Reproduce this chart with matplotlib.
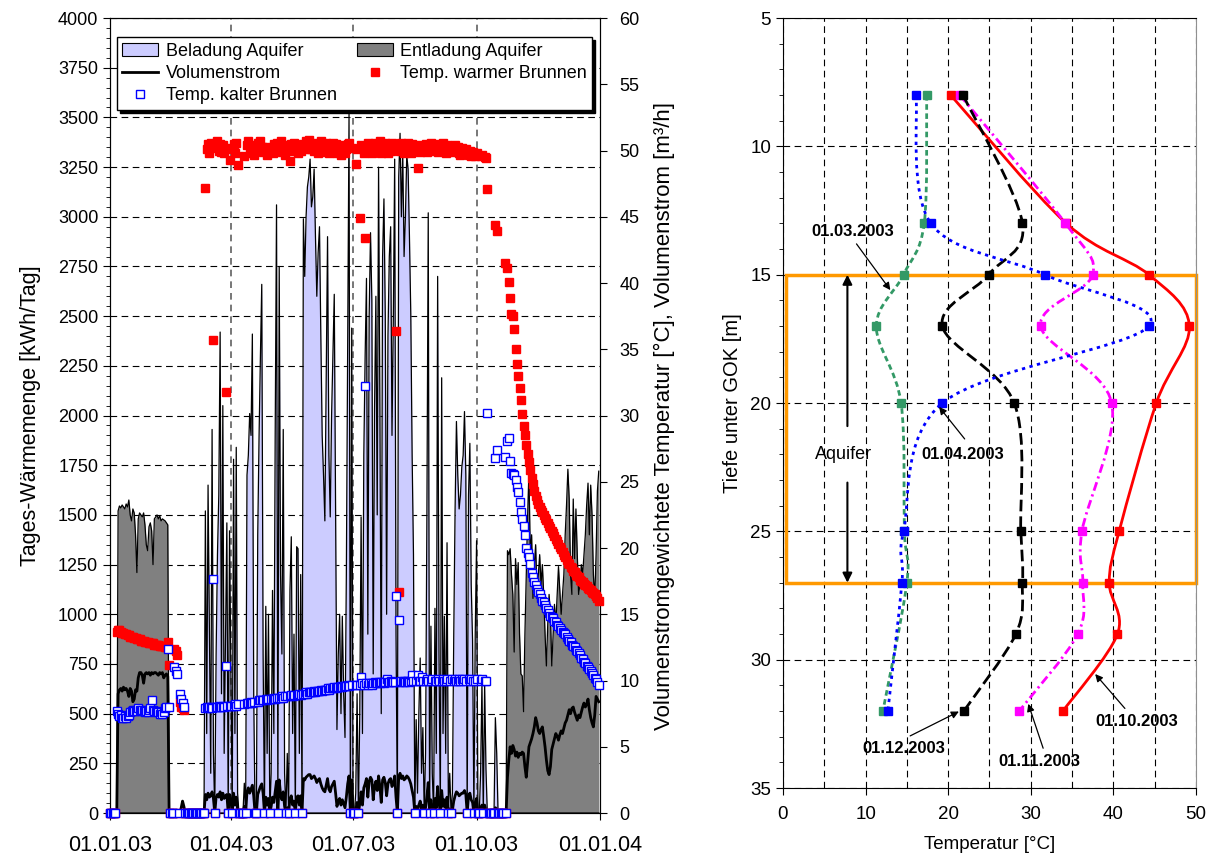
import matplotlib
matplotlib.use("Agg")
import matplotlib.pyplot as plt
import matplotlib.dates as mdates
import numpy as np
import pandas as pd
from matplotlib.lines import Line2D
from matplotlib.patches import Patch, PathPatch, Rectangle
from matplotlib.path import Path
from matplotlib.ticker import MultipleLocator

plt.rcParams["font.family"] = ["Liberation Sans", "DejaVu Sans"]
plt.rcParams["font.size"] = 13

# ---------------- left chart: daily values 2003 ----------------
# Beladung (charging) in kWh/day, starting 12.03.2003
charge_start = "2003-03-12"
charge_kwh = [
    0, 1520, 400, 1650, 900, 200, 1930, 300, 0, 800, 1300, 1600, 2420, 600, 2050, 300, 900, 1460, 0, 1420,
    700, 0, 1780, 400, 1840, 100, 0, 0, 0, 0, 150, 0, 1700, 1800, 2010, 1900, 2410, 600, 0, 0,
    1400, 1900, 2300, 2660, 800, 0, 1040, 300, 1000, 0,
    200, 1120, 400, 1900, 3060, 0, 2750, 1200, 800, 1930, 200, 0, 300, 0, 1120, 1390, 400, 900, 0, 1340,
    1330, 300, 1200, 0, 2990, 2700, 3000, 3150, 3200, 3290, 3050,
    3100, 3240, 2900, 2600, 2820, 2950, 2400, 1900, 1700, 1470, 2200, 2900, 1800, 1490, 2000, 2300, 2610, 1500, 420, 800,
    1000, 500, 990, 600, 380, 1200, 2340, 3520, 0, 2440,
    0, 0, 100, 600, 0, 500, 1490, 400, 1800, 2300, 2690, 900, 2500, 2920, 2580, 700, 2030, 2600, 1500, 3250,
    2030, 500, 2800, 3090, 2500, 1000, 2400, 2800, 2950, 1900, 2490,
    3290, 900, 0, 3200, 3420, 3000, 3320, 2800, 3000, 3310, 3240, 2900, 2510, 1800, 1300, 0, 470, 100, 500, 780,
    200, 430, 0, 300, 1500, 3020, 0, 940, 200, 0, 1030,
    300, 2700, 800, 0, 2190, 400, 990, 300, 1360, 0, 200, 0, 100, 900, 1530, 1970, 1700, 1530, 1600, 1740,
    1800, 2020, 1700, 0, 1600, 1860, 1150, 870, 0, 900,
    1370, 0, 0, 200, 660, 0, 650, 220, 0, 0, 0, 0, 0, 0, 480, 300, 0,
]

# Entladung (discharging) in kWh/day
discharge_winter_start = "2003-01-07"
discharge_winter_kwh = [
    1520, 1545, 1535, 1550, 1540, 1530, 1555, 1540, 1575, 1500, 1470, 1530, 1510, 1400, 1210, 1480, 1510, 1500,
    1490, 1510, 1450, 1350, 1320, 1440, 1460,
    1420, 1250, 1480, 1490, 1500, 1480, 1495, 1470, 1480, 1475, 1470, 1460, 1450,
]
discharge_autumn_start = "2003-10-24"
discharge_autumn_kwh = [
    1320, 1300, 1330, 1200, 1100, 810, 1280, 1150,
    1260, 900, 700, 690, 510, 900, 1200, 1490, 1720, 1300, 1400, 1080, 1250, 1350, 1100, 1200, 1300, 1150,
    1250, 1100, 900, 740, 950, 1100, 1000, 740, 900, 1050, 950, 1100,
    1240, 1120, 1000, 1100, 1200, 1400, 1550, 1730, 1580, 1200, 1100, 1580, 1280, 1530, 1300, 1100, 1150,
    1250, 1200, 1300, 1400, 1550, 1660, 1400, 1650, 1500, 1200, 1080, 1300, 1620, 1720,
]

# Volumenstrom in m3/h, 01.01.2003 - 31.12.2003
flow_m3h = [
    # Jan
    0, 0, 0, 0, 0, 0, 9.0, 9.3, 9.4, 9.2, 9.5, 9.3, 9.4, 9.2, 8.8, 9.4, 9.2, 8.4, 8.6, 9.3, 9.2, 10.2,
    10.6, 10.6, 10.4, 9.8, 10.5, 10.6, 10.5, 10.6, 10.4,
    # Feb
    10.6, 10.5, 10.6, 10.6, 10.5, 10.4, 10.6, 10.5, 10.6, 10.2, 10.4, 10.5, 10.3, 0, 0, 0, 0, 0, 0, 0,
    0, 0, 0.4, 0.9, 0.5, 0, 0, 0,
    # Mar
    0, 0, 0, 0, 0, 0, 0, 0, 0, 0, 0, 0, 1.4, 1.0, 1.5, 1.2, 1.3, 1.6, 1.1, 0, 1.2, 1.4, 1.2, 1.6, 1.0,
    1.5, 1.1, 1.3, 1.4, 0, 1.4,
    # Apr
    1.0, 0, 1.5, 0.6, 1.2, 0.3, 0, 0, 0, 0, 0.5, 0, 1.6, 1.9, 1.5, 1.8, 2.1, 1.3, 0, 0, 1.4, 1.7, 2.0,
    2.2, 1.5, 0, 1.2, 0.6, 1.1, 0,
    # May
    0.5, 1.2, 0.8, 1.6, 2.4, 0, 2.5, 1.4, 1.0, 1.6, 0.5, 0, 0.4, 0, 1.1, 1.3, 0.6, 0.9, 0, 1.2, 1.3,
    0.6, 1.3, 0, 2.6, 2.5, 2.7, 2.8, 2.9, 2.9, 2.6,
    # Jun
    2.7, 2.8, 2.6, 2.3, 2.5, 2.6, 2.2, 1.9, 1.7, 1.6, 2.1, 2.6, 1.8, 1.6, 2.0, 2.2, 2.4, 1.5, 0.5, 0.9,
    1.1, 0.6, 1.0, 0.7, 0.4, 1.2, 2.2, 2.8, 0, 2.5,
    # Jul
    0, 0, 0.2, 0.8, 0, 0.7, 1.6, 0.6, 1.9, 2.2, 2.6, 1.2, 2.4, 2.7, 2.5, 1.0, 2.0, 2.4, 1.7, 2.8, 2.0,
    0.8, 2.5, 2.7, 2.3, 1.3, 2.2, 2.5, 2.6, 2.0, 2.2,
    # Aug
    2.8, 1.2, 0, 2.7, 3.0, 2.6, 2.8, 2.5, 2.6, 2.8, 2.7, 2.5, 2.2, 1.7, 1.2, 0, 0.5, 0.2, 0.6, 0.9, 0.3,
    0.6, 0, 0.4, 1.3, 2.3, 0, 1.0, 0.4, 0, 1.1,
    # Sep
    0.4, 2.0, 0.8, 0, 1.7, 0.5, 1.0, 0.4, 1.2, 0, 0.3, 0, 0.2, 0.9, 1.3, 1.6, 1.5, 1.3, 1.4, 1.5, 1.5,
    1.7, 1.4, 0, 1.3, 1.5, 1.0, 0.8, 0, 0.8,
    # Oct
    1.1, 0, 0, 0.2, 0.6, 0, 0.6, 0.2, 0, 0, 0, 0, 0, 0, 0.4, 0.3, 0, 0, 0, 0, 0, 0, 0, 2.7, 4.0, 5.0,
    4.5, 5.1, 4.8, 4.3, 4.6,
    # Nov
    4.2, 4.5, 4.4, 4.6, 4.5, 3.5, 2.7, 3.8, 5.0, 5.3, 5.6, 6.0, 6.5, 7.2, 6.8, 6.2, 6.0, 6.3, 6.5, 5.8,
    5.0, 4.0, 3.2, 2.9, 3.5, 4.8, 5.2, 5.6, 6.0, 5.8,
    # Dec
    5.5, 5.9, 6.2, 6.0, 6.4, 6.8, 7.0, 7.4, 7.8, 7.5, 7.9, 8.0, 7.6, 7.3, 7.0, 7.4, 7.2, 7.6, 8.0, 8.3,
    8.0, 8.2, 8.6, 7.8, 7.2, 6.8, 6.5, 7.4, 8.8, 8.6, 8.4,
]

# flow weighted temperature of the warm well in degC
temp_warm = [
    # Jan
    0, 0, 0, 0, 0, 13.7, 13.8, 13.8, 13.7, 13.6, 13.6, 13.5, 13.5, 13.4, 13.4, 13.3, 13.3, 13.3, 13.2,
    13.2, 13.1, 13.1, 13.1, 13.0, 13.0, 13.0, 12.9, 12.9, 12.9, 12.8, 12.8,
    # Feb
    12.8, 12.8, 12.7, 12.7, 12.7, 12.7, 12.6, 12.6, 12.6, 12.6, 12.5, 12.5, 12.9, 11.2, 0, 0, 0, 12.4,
    12.2, 11.9, 0, 8.4, 8.0, 7.9, 7.8, 0, 0, 0,
    # Mar
    0, 0, 0, 0, 0, 0, 0, 0, 0, 0, 0, 0, 47.2, 50.1, 50.5, 49.8, 50.6, 50.2, 35.7, 0, 50.3, 50.7, 50.0,
    50.5, 49.9, 50.4, 49.8, 31.8, 50.2, 0, 49.3,
    # Apr
    50.1, 0, 50.5, 49.8, 50.6, 48.9, 0, 0, 0, 0, 49.6, 0, 50.4, 50.7, 50.1, 49.8, 50.4, 49.7, 0, 0, 50.6,
    50.1, 50.7, 50.3, 49.9, 0, 50.3, 49.7, 50.0, 0,
    # May
    50.2, 49.8, 50.5, 50.0, 50.6, 0, 50.2, 50.7, 49.9, 50.4, 49.7, 0, 50.3, 0, 49.2, 50.5, 50.0, 50.6, 0,
    50.2, 49.8, 50.4, 50.0, 0, 50.5, 50.1, 50.7, 50.3, 50.8, 50.4, 50.1,
    # Jun
    50.4, 50.0, 50.6, 50.2, 49.8, 50.4, 50.7, 50.1, 49.9, 50.5, 50.6, 50.1, 49.8, 50.4, 50.0, 50.6, 50.2,
    50.5, 49.8, 50.2, 50.0, 49.7, 50.4, 50.2, 49.8, 50.1, 50.5, 50.6, 0, 50.2,
    # Jul
    0, 0, 49.0, 50.1, 0, 44.9, 50.4, 50.2, 49.8, 43.4, 50.3, 50.6, 50.0, 50.4, 49.8, 50.2, 50.6, 50.0,
    50.4, 50.1, 50.7, 49.8, 50.4, 50.0, 50.6, 50.2, 49.8, 50.4, 50.0, 50.6, 50.2,
    # Aug
    50.4, 36.4, 0, 16.7, 50.0, 50.6, 50.2, 49.8, 50.4, 50.0, 50.6, 50.2, 49.8, 50.5, 50.0, 0, 50.3, 48.7,
    50.4, 49.9, 50.3, 50.0, 0, 50.5, 49.9, 50.3, 0, 50.6, 50.0, 0, 50.4,
    # Sep
    50.3, 49.9, 50.5, 0, 50.0, 50.6, 50.2, 49.8, 50.4, 0, 50.0, 0, 50.3, 49.9, 50.4, 50.0, 50.3, 49.8,
    49.7, 50.2, 49.9, 49.8, 50.1, 0, 49.7, 50.0, 49.6, 49.9, 0, 49.6,
    # Oct
    49.8, 0, 0, 49.6, 49.7, 0, 49.5, 49.4, 47.1, 0, 0, 0, 0, 0, 44.4, 43.9, 0, 0, 0, 0, 0, 41.5, 0, 41.1,
    40.1, 38.9, 37.7, 37.5, 36.5, 35.0, 33.9,
    # Nov
    33.0, 32.1, 31.2, 30.1, 29.2, 28.5, 27.8, 27.1, 26.5, 25.9, 25.3, 24.8, 24.3, 23.9, 23.6, 23.3, 23.1,
    22.9, 22.7, 22.5, 22.3, 22.1, 21.9, 21.7, 21.5, 21.3, 21.1, 20.9, 20.7, 20.5,
    # Dec
    20.3, 20.1, 19.9, 19.7, 19.5, 19.3, 19.1, 18.9, 18.8, 18.6, 18.5, 18.3, 18.2, 18.0, 17.9, 17.8, 17.6,
    17.5, 17.4, 17.3, 17.2, 17.1, 17.0, 16.9, 16.8, 16.7, 16.6, 16.5, 16.4, 16.2, 16.0,
]

# flow weighted temperature of the cold well in degC
temp_cold = [
    # Jan
    0, 0, 0, 0, 0, 7.7, 7.5, 7.3, 7.4, 7.2, 7.2, 7.3, 7.2, 7.3, 7.4, 7.6, 7.7, 7.8, 7.7, 7.8, 7.7, 7.9,
    7.8, 7.7, 7.8, 7.7, 7.6, 7.7, 7.6, 7.8, 7.9,
    # Feb
    8.5, 7.8, 7.7, 7.6, 7.7, 7.6, 7.5, 7.6, 7.5, 7.6, 7.9, 8.0, 12.4, 8.0, 0, 0, 0, 11.0, 10.7, 10.5, 0,
    9.0, 8.6, 8.3, 8.0, 0, 0, 0,
    # Mar
    0, 0, 0, 0, 0, 0, 0, 0, 0, 0, 0, 0, 7.9, 8.0, 7.9, 8.0, 8.0, 7.9, 17.7, 0, 8.0, 8.0, 8.1, 8.0, 8.0,
    8.1, 8.0, 11.1, 8.1, 0, 8.1,
    # Apr
    8.1, 0, 8.1, 8.2, 8.1, 8.2, 0, 0, 0, 0, 8.2, 0, 8.3, 8.3, 8.3, 8.4, 8.3, 8.4, 0, 0, 8.4, 8.5, 8.5,
    8.5, 8.5, 0, 8.6, 8.5, 8.6, 0,
    # May
    8.6, 8.6, 8.7, 8.6, 8.7, 0, 8.7, 8.7, 8.8, 8.7, 8.8, 0, 8.8, 0, 8.8, 8.9, 8.8, 8.9, 0, 8.9, 8.9, 9.0,
    8.9, 0, 9.0, 9.0, 9.1, 9.0, 9.1, 9.1, 9.1,
    # Jun
    9.1, 9.2, 9.1, 9.2, 9.2, 9.2, 9.3, 9.2, 9.3, 9.3, 9.3, 9.4, 9.3, 9.4, 9.4, 9.4, 9.5, 9.4, 9.5, 9.5,
    9.5, 9.6, 9.5, 9.6, 9.6, 9.6, 9.7, 9.6, 0, 9.7,
    # Jul
    0, 0, 9.7, 9.7, 0, 9.7, 10.3, 9.8, 9.7, 32.2, 9.8, 9.7, 9.8, 9.8, 9.7, 9.8, 9.9, 9.8, 9.8, 9.9, 9.8,
    9.9, 9.9, 9.8, 9.9, 10.1, 9.9, 9.9, 10.0, 9.9, 9.9,
    # Aug
    9.9, 16.4, 0, 14.6, 9.9, 10.0, 9.9, 10.0, 9.9, 10.0, 10.0, 9.9, 10.0, 10.4, 10.0, 0, 10.0, 10.4, 10.0,
    10.0, 10.3, 10.0, 0, 10.0, 10.1, 10.0, 0, 10.0, 10.1, 0, 10.0,
    # Sep
    10.0, 10.1, 10.0, 0, 10.0, 10.1, 10.0, 10.0, 10.1, 0, 10.0, 0, 10.1, 10.0, 10.1, 10.0, 10.0, 10.1,
    10.0, 10.1, 10.0, 10.1, 10.0, 0, 10.1, 10.0, 10.1, 10.0, 0, 10.0,
    # Oct
    10.1, 0, 0, 10.0, 10.1, 0, 10.0, 10.0, 30.2, 0, 0, 0, 0, 0, 26.8, 27.4, 0, 0, 0, 0, 0, 26.9, 0, 28.1,
    28.3, 26.6, 25.7, 25.6, 25.5, 25.1, 24.6,
    # Nov
    24.2, 23.5, 22.7, 22.2, 21.7, 21.0, 20.0, 19.6, 19.3, 18.8, 18.1, 17.8, 17.4, 17.2, 16.9, 16.7, 16.5,
    16.2, 16.0, 15.9, 15.7, 15.5, 15.3, 15.1, 14.9, 14.8, 14.7, 14.5, 14.4, 14.2,
    # Dec
    14.1, 14.0, 13.8, 13.7, 13.6, 13.5, 13.3, 13.1, 13.0, 12.9, 12.7, 12.6, 12.5, 12.3, 12.2, 12.1, 11.9,
    11.7, 11.6, 11.4, 11.3, 11.1, 11.0, 10.9, 10.7, 10.6, 10.4, 10.2, 10.1, 9.9, 9.7,
]

# ---------------- right chart: temperature profiles ----------------
depth_long = [8, 13, 15, 17, 20, 25, 27, 29, 32]
depth_short = [8, 13, 15, 17, 20, 25, 27, 32]
temp_0103 = [17.4, 17.1, 14.6, 11.3, 14.3, 14.7, 15.0, 12.1]
temp_0104 = [16.1, 17.9, 31.7, 44.3, 19.3, 14.6, 14.4, 12.7]
temp_1003 = [20.3, 34.3, 44.3, 49.2, 45.2, 40.7, 39.5, 40.5, 33.9]
temp_1103 = [21.4, 34.2, 37.5, 31.2, 39.8, 36.2, 36.3, 35.7, 28.6]
temp_1203 = [21.8, 29.0, 24.9, 19.3, 28.0, 28.8, 29.0, 28.2, 21.9]
aquifer_top, aquifer_bottom = 15, 27


def on_year(year, start, values):
    s = pd.Series(values, index=pd.date_range(start, periods=len(values), freq="D"))
    return s.reindex(year, fill_value=0)


def smooth_path(xs, ys):
    # cubic Bezier through the points, like a "smoothed line" in a spreadsheet chart
    pts = np.column_stack([xs, ys]).astype(float)
    n = len(pts)
    verts = [pts[0]]
    codes = [Path.MOVETO]
    for i in range(n - 1):
        p0 = pts[i - 1] if i > 0 else pts[i]
        p1, p2 = pts[i], pts[i + 1]
        p3 = pts[i + 2] if i + 2 < n else pts[i + 1]
        verts += [p1 + (p2 - p0) / 6, p2 - (p3 - p1) / 6, p2]
        codes += [Path.CURVE4] * 3
    return Path(verts, codes)


def main() -> None:
    year = pd.date_range("2003-01-01", "2003-12-31", freq="D")
    charge = on_year(year, charge_start, charge_kwh)
    discharge = on_year(year, discharge_winter_start, discharge_winter_kwh) + on_year(
        year, discharge_autumn_start, discharge_autumn_kwh
    )

    fig = plt.figure(figsize=(12.16, 8.63), dpi=100)

    # ---- left chart
    ax = fig.add_axes([0.0905, 0.0579, 0.4030, 0.9212])
    ax.set_axisbelow(True)
    ax.fill_between(year, 0, charge.values, color="#CCCCFF", lw=0, zorder=1)
    ax.plot(year, charge.values, color="black", lw=0.9, zorder=2)
    ax.fill_between(year, 0, discharge.values, color="#808080", lw=0, zorder=1)
    ax.plot(year, discharge.values, color="black", lw=0.9, zorder=2)

    ax.set_xlim(pd.Timestamp("2003-01-01"), pd.Timestamp("2004-01-01"))
    ax.set_ylim(0, 4000)
    ax.yaxis.set_major_locator(MultipleLocator(250))
    ax.yaxis.set_minor_locator(MultipleLocator(50))
    ticks = pd.to_datetime(["2003-01-01", "2003-04-01", "2003-07-01", "2003-10-01", "2004-01-01"])
    ax.set_xticks(ticks)
    ax.xaxis.set_major_formatter(mdates.DateFormatter("%d.%m.%y"))
    ax.tick_params(axis="y", direction="out", length=5, labelsize=13)
    ax.tick_params(axis="x", direction="out", length=5, labelsize=15.5, pad=11)
    ax.tick_params(axis="y", which="minor", direction="out", length=3)
    ax.grid(axis="y", color="black", lw=0.8, linestyle=(0, (6, 4)))
    for t in ticks[1:-1]:
        ax.axvline(t, color="#606060", lw=1.2, linestyle=(0, (4, 3)), zorder=1.5)
    ax.set_ylabel("Tages-Wärmemenge [kWh/Tag]", fontsize=15.5, labelpad=12)

    ax2 = ax.twinx()
    ax2.set_ylim(0, 60)
    ax2.yaxis.set_major_locator(MultipleLocator(5))
    ax2.tick_params(axis="y", direction="out", length=5, labelsize=13, pad=9)
    ax2.plot(year, flow_m3h, color="black", lw=2.0, zorder=3)
    ax2.plot(year, temp_warm, ls="none", marker="s", ms=6.3, mfc="red", mec="red", mew=1,
             clip_on=False, zorder=4)
    ax2.plot(year, temp_cold, ls="none", marker="s", ms=6.3, mfc="white", mec="blue", mew=1,
             clip_on=False, zorder=5)
    ax2.set_ylabel("Volumenstromgewichtete Temperatur [°C], Volumenstrom [m³/h]", fontsize=16, labelpad=10)

    handles = [
        Patch(facecolor="#CCCCFF", edgecolor="black", lw=0.8),
        Line2D([], [], color="black", lw=2),
        Line2D([], [], ls="none", marker="s", ms=6, mfc="white", mec="blue", mew=1),
        Patch(facecolor="#808080", edgecolor="black", lw=0.8),
        Line2D([], [], ls="none", marker="s", ms=6, mfc="red", mec="red"),
    ]
    labels = ["Beladung Aquifer", "Volumenstrom", "Temp. kalter Brunnen",
              "Entladung Aquifer", "Temp. warmer Brunnen"]
    leg = ax2.legend(handles, labels, ncol=2, loc="upper left", bbox_to_anchor=(0.014, 0.976),
                     borderaxespad=0, fancybox=False, edgecolor="black", framealpha=1,
                     shadow={"color": "black", "alpha": 1}, fontsize=13, handlelength=2.0,
                     handletextpad=0.4, labelspacing=0.3, columnspacing=1.1, borderpad=0.3)
    leg.get_frame().set_linewidth(1.0)

    # ---- right chart
    axr = fig.add_axes([0.6439, 0.0869, 0.3396, 0.8922])
    axr.set_xlim(0, 50)
    axr.set_ylim(35, 5)
    axr.xaxis.set_major_locator(MultipleLocator(10))
    axr.xaxis.set_minor_locator(MultipleLocator(5))
    axr.yaxis.set_major_locator(MultipleLocator(5))
    axr.yaxis.set_minor_locator(MultipleLocator(1))
    axr.tick_params(axis="both", direction="out", length=5, labelsize=13.5)
    axr.tick_params(axis="x", pad=8)
    axr.tick_params(axis="x", which="minor", length=0)
    axr.tick_params(axis="y", which="minor", direction="out", length=3)
    axr.grid(axis="x", which="both", color="black", lw=0.8, linestyle=(0, (6, 4)))
    axr.grid(axis="y", which="major", color="black", lw=0.8, linestyle=(0, (6, 4)))
    axr.set_axisbelow(True)
    axr.spines["right"].set_color("#909090")
    axr.set_xlabel("Temperatur [°C]", fontsize=13.5, labelpad=9)
    axr.set_ylabel("Tiefe unter GOK [m]", fontsize=14.5, labelpad=6)

    axr.add_patch(Rectangle((0.4, aquifer_top), 49.6, aquifer_bottom - aquifer_top, fill=False,
                            edgecolor="#FF9900", lw=2.5, zorder=2, clip_on=False))

    profiles = [
        (temp_1003, depth_long, "red", "-", 3),
        (temp_1103, depth_long, "#FF00FF", (0, (3.2, 1.4, 0.8, 1.4)), 4),
        (temp_1203, depth_long, "black", (0, (4.2, 1.8)), 5),
        (temp_0103, depth_short, "#339966", (0, (2.0, 1.3)), 6),
        (temp_0104, depth_short, "#0000FF", (0, (1.2, 1.6)), 7),
    ]
    for temps, depths, color, style, z in profiles:
        axr.add_patch(PathPatch(smooth_path(temps, depths), fill=False, edgecolor=color, lw=2,
                                linestyle=style, zorder=z))
        axr.plot(temps, depths, ls="none", marker="s", ms=6, mfc=color, mec=color, zorder=z + 0.5)

    arrow = dict(arrowstyle="-|>", color="black", lw=0.9, mutation_scale=11, shrinkA=0, shrinkB=0)
    notes = [
        ("01.03.2003", (8.5, 13.3), (8.9, 13.8), (13.0, 15.6)),
        ("01.04.2003", (21.8, 22.0), (22.0, 21.4), (18.9, 20.15)),
        ("01.12.2003", (14.6, 33.45), (15.4, 32.97), (21.3, 32.02)),
        ("01.11.2003", (31.1, 33.97), (31.5, 33.45), (29.7, 31.72)),
        ("01.10.2003", (42.8, 32.4), (41.4, 31.9), (37.8, 30.56)),
    ]
    for text, pos, tail, head in notes:
        axr.text(pos[0], pos[1], text, ha="center", va="center", fontsize=12, fontweight="bold", zorder=9)
        axr.annotate("", xy=head, xytext=tail, arrowprops=arrow, zorder=9)

    big_arrow = dict(arrowstyle="-|>", color="black", lw=1.5, mutation_scale=14, shrinkA=0, shrinkB=0)
    axr.annotate("", xy=(7.8, aquifer_top), xytext=(7.8, 20.9), arrowprops=big_arrow)
    axr.annotate("", xy=(7.8, aquifer_bottom), xytext=(7.8, 23.1), arrowprops=big_arrow)
    axr.text(7.3, 22.0, "Aquifer", ha="center", va="center", fontsize=13)

    fig.savefig("out.png", dpi=100)
    plt.close(fig)


if __name__ == "__main__":
    main()
